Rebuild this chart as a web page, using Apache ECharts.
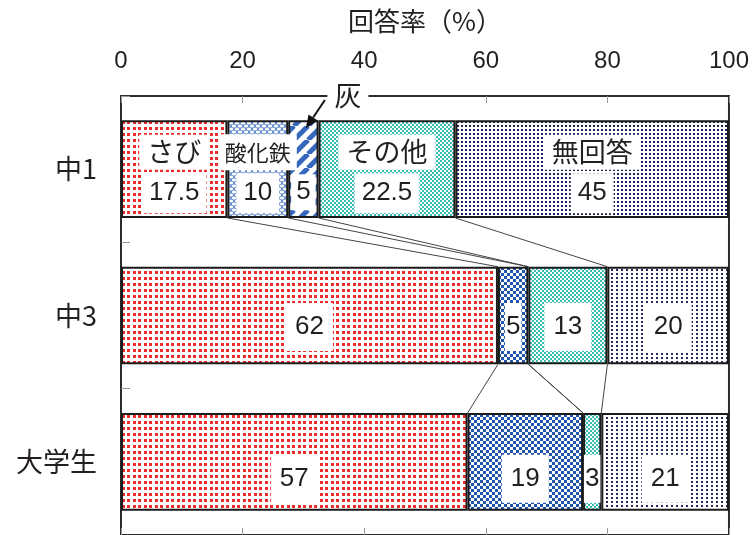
<!DOCTYPE html>
<html>
<head>
<meta charset="utf-8">
<script src="https://cdn.jsdelivr.net/npm/echarts@6/dist/echarts.min.js"></script>
<style>
  html, body { margin: 0; padding: 0; background: #fff; }
  #chart { width: 752px; height: 535px; }
</style>
</head>
<body>
<div id="chart"></div>
<script>
// 回答率（%）: 中1・中3・大学生ごとの回答の内訳
const categories = ['中1', '中3', '大学生'];
const answerNames = ['さび', '酸化鉄', '灰', 'その他', '無回答'];
const sabi = [17.5, 62, 57];
const sankatetsu = [10, 5, 19];
const hai = [5, 0, 0];
const sonota = [22.5, 13, 3];
const mukaitou = [45, 20, 21];
const xTickStep = 20;

const FONT = '"Noto Sans CJK JP", "Noto Sans", sans-serif';
const NUM_FONT = '"Liberation Sans", Arial, sans-serif';
const TEXT = '#231f20';
const BAR_RATIO = 0.667;

// ---- fill patterns -------------------------------------------------------
function pattern(w, h, draw) {
  const c = document.createElement('canvas');
  c.width = w; c.height = h;
  const ctx = c.getContext('2d');
  ctx.fillStyle = '#fff';
  ctx.fillRect(0, 0, w, h);
  draw(ctx);
  return { image: c, repeat: 'repeat' };
}
const redDots = pattern(11, 6, ctx => {
  ctx.fillStyle = '#ee2a2a';
  ctx.fillRect(1, 1, 3, 3);
  ctx.fillRect(6, 1, 3, 3);
});
const navyDense = pattern(4, 4, ctx => {
  ctx.fillStyle = '#1f2258';
  ctx.fillRect(1, 1, 2, 2);
});
const navySparse = pattern(5, 4, ctx => {
  ctx.fillStyle = '#272a60';
  ctx.fillRect(1, 1, 2, 2);
});
const blueChecker = pattern(6, 6, ctx => {
  ctx.fillStyle = '#1f55aa';
  ctx.fillRect(0, 0, 3, 3);
  ctx.fillRect(3, 3, 3, 3);
});
const tealChecker = pattern(4, 4, ctx => {
  ctx.fillStyle = '#38bdb5';
  ctx.fillRect(0, 0, 2, 2);
  ctx.fillRect(2, 2, 2, 2);
});
const lightLattice = pattern(6, 6, ctx => {
  ctx.fillStyle = '#5f88cc';
  ctx.fillRect(0, 0, 6, 6);
  ctx.fillStyle = '#fff';
  [[3, 3], [0, 0], [6, 0], [0, 6], [6, 6]].forEach(([x, y]) => {
    ctx.beginPath();
    ctx.ellipse(x, y, 2.2, 1.6, 0, 0, Math.PI * 2);
    ctx.fill();
  });
});
const blueStripes = pattern(14, 14, ctx => {
  ctx.strokeStyle = '#3568bd';
  ctx.lineWidth = 5;
  for (let o = -14; o <= 14; o += 14) {
    ctx.beginPath();
    ctx.moveTo(o, 14);
    ctx.lineTo(o + 14, 0);
    ctx.stroke();
  }
});

// fills per answer, one per row
const fills = [
  [redDots, redDots, redDots],
  [lightLattice, blueChecker, blueChecker],
  [blueStripes, blueStripes, blueStripes],
  [tealChecker, tealChecker, tealChecker],
  [navyDense, navySparse, navySparse]
];
const valueLists = [sabi, sankatetsu, hai, sonota, mukaitou];

// row 0 carries the answer names above the values (灰 is annotated by an arrow)
const nameOnFirstRow = [true, true, false, true, true];
const nameStyleKey = ['n', 'ns', 'n', 'n', 'n'];
const rowLabelDy = [3.5, 11.5, 17];

const rich = {
  n:  { fontFamily: FONT, fontSize: 27, color: TEXT, lineHeight: 41, padding: [4, 8], backgroundColor: '#fff' },
  ns: { fontFamily: FONT, fontSize: 22, color: TEXT, lineHeight: 41, padding: [7, 6], backgroundColor: '#fff' },
  v:  { fontFamily: NUM_FONT, fontSize: 26, color: TEXT, lineHeight: 41, padding: [7, 7], backgroundColor: '#fff' },
  vb: { fontFamily: NUM_FONT, fontSize: 26, color: TEXT, padding: [11, 9], backgroundColor: '#fff' },
  vn: { fontFamily: NUM_FONT, fontSize: 26, color: TEXT, padding: [11, 1], backgroundColor: '#fff' },
  vn0:{ fontFamily: NUM_FONT, fontSize: 26, color: TEXT, padding: [5, 5], backgroundColor: '#fff' }
};

function barSeries(si) {
  return {
    type: 'bar',
    name: answerNames[si],
    stack: 'total',
    barWidth: (BAR_RATIO * 100) + '%',
    silent: true,
    itemStyle: { borderColor: '#1b1b1b', borderWidth: 2 },
    data: valueLists[si].map((v, row) => {
      const withName = row === 0 && nameOnFirstRow[si];
      const narrow = v < 8;
      let key;
      if (row === 0) key = narrow ? 'vn0' : 'v';
      else key = narrow ? 'vn' : 'vb';
      const text = withName
        ? `{${nameStyleKey[si]}|${answerNames[si]}}\n{${key}|${v}}`
        : `{${key}|${v}}`;
      return {
        value: v,
        itemStyle: { color: fills[si][row], borderWidth: v === 0 ? 0 : 2 },
        label: {
          show: v !== 0,
          position: 'inside',
          formatter: text,
          rich: rich,
          offset: [0, (row === 0 && !withName) ? 23 : rowLabelDy[row]]
        }
      };
    })
  };
}

// cumulative boundaries of every row, used for the lines between bars
function cumulative(row) {
  const out = [];
  let s = 0;
  for (let si = 0; si < valueLists.length - 1; si++) {
    s += valueLists[si][row];
    out.push(s);
  }
  return out;
}
const connectorData = [];
for (let row = 0; row < categories.length - 1; row++) {
  const a = cumulative(row), b = cumulative(row + 1);
  a.forEach((v, k) => connectorData.push([v, b[k], row]));
}

const chart = echarts.init(document.getElementById('chart'), null, { renderer: 'canvas' });

chart.setOption({
  animation: false,
  grid: {
    left: 121, right: 23, top: 96, height: 441,
    show: true, borderColor: '#2b2b2b', borderWidth: 2, backgroundColor: 'transparent'
  },
  xAxis: [{
    type: 'value', position: 'top', min: 0, max: 100, interval: xTickStep,
    name: '回答率（%）', nameLocation: 'middle', nameGap: 62, nameMoveOverlap: false,
    nameTextStyle: { fontFamily: FONT, fontSize: 26, color: TEXT },
    axisLine: { show: false },
    axisTick: { show: true, inside: true, length: 7, lineStyle: { color: '#999', width: 1 } },
    axisLabel: { fontFamily: NUM_FONT, fontSize: 24, color: TEXT, margin: 23 },
    splitLine: { show: false }
  }, {
    type: 'value', position: 'bottom', min: 0, max: 100, interval: xTickStep,
    axisLine: { show: false },
    axisTick: { show: true, inside: true, length: 7, lineStyle: { color: '#999', width: 1 } },
    axisLabel: { show: false },
    splitLine: { show: false }
  }],
  yAxis: {
    type: 'category', data: categories, inverse: true,
    axisLine: { show: false },
    axisTick: { show: true, inside: true, length: 9, lineStyle: { color: '#999', width: 1 } },
    axisLabel: { fontFamily: FONT, fontSize: 27, color: TEXT, margin: 24 },
    splitLine: { show: false }
  },
  series: [
    {
      type: 'custom',
      name: 'connectors',
      silent: true,
      z: 1,
      encode: { x: [0, 1], y: 2 },
      data: connectorData,
      renderItem: (params, api) => {
        const row = api.value(2);
        const p0 = api.coord([api.value(0), row]);
        const p1 = api.coord([api.value(1), row + 1]);
        const band = Math.abs(p1[1] - p0[1]);
        const half = band * BAR_RATIO / 2;
        return {
          type: 'line',
          shape: { x1: p0[0], y1: p0[1] + half, x2: p1[0], y2: p1[1] - half },
          style: { stroke: '#444', lineWidth: 1 }
        };
      }
    }
  ].concat(answerNames.map((_, si) => barSeries(si)))
});

// arrow annotation for 灰 on the first row
(function annotateHai() {
  const before = sabi[0] + sankatetsu[0];
  const mid = before + hai[0] / 2;
  const c0 = chart.convertToPixel({ gridIndex: 0 }, [mid, categories[0]]);
  const c1 = chart.convertToPixel({ gridIndex: 0 }, [mid, categories[1]]);
  const band = Math.abs(c1[1] - c0[1]);
  const barTop = c0[1] - band * BAR_RATIO / 2;
  const gridTop = c0[1] - band / 2;
  const tip = [c0[0] + 2.5, barTop + 8];
  const start = [tip[0] + 19, gridTop + 4];
  const ang = Math.atan2(tip[1] - start[1], tip[0] - start[0]);
  const hl = 13, hw = 5.5;
  const base = [tip[0] - hl * Math.cos(ang), tip[1] - hl * Math.sin(ang)];
  const nx = -Math.sin(ang), ny = Math.cos(ang);
  chart.setOption({
    graphic: [
      {
        type: 'line', z: 100, silent: true,
        shape: { x1: start[0], y1: start[1], x2: base[0], y2: base[1] },
        style: { stroke: '#111', lineWidth: 2 }
      },
      {
        type: 'polygon', z: 100, silent: true,
        shape: { points: [tip, [base[0] + nx * hw, base[1] + ny * hw], [base[0] - nx * hw, base[1] - ny * hw]] },
        style: { fill: '#111' }
      },
      {
        type: 'text', z: 100, silent: true,
        x: start[0] + 23, y: gridTop,
        style: {
          text: answerNames[2], fontFamily: FONT, fontSize: 27, fill: TEXT,
          align: 'center', verticalAlign: 'middle',
          backgroundColor: '#fff', padding: [1, 7]
        }
      }
    ]
  });
})();
</script>
</body>
</html>
